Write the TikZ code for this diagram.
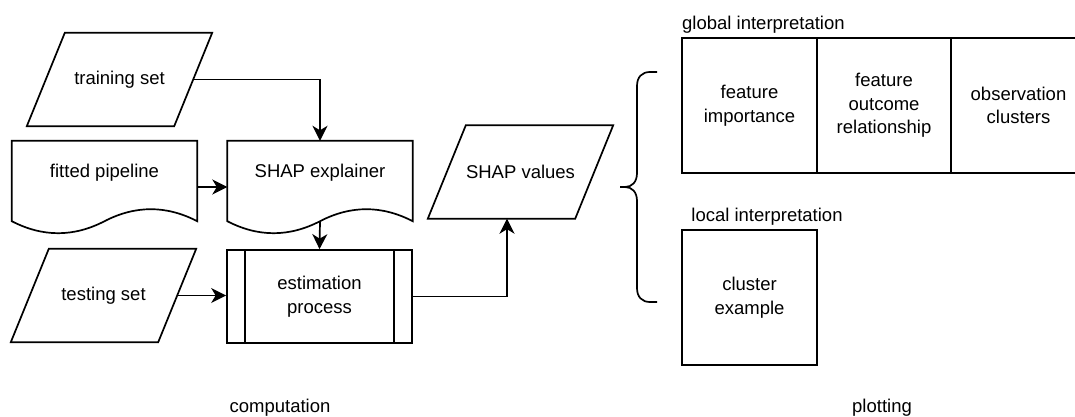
\documentclass[tikz,border=0pt]{standalone}
\usepackage{fontspec}
\setmainfont{Liberation Sans}
\usetikzlibrary{arrows.meta,calc}

% outline of a flowchart "document" symbol around node #1 (wavy bottom edge)
\newcommand\docoutline[1]{%
  \draw[edgepen] (#1.north west) -- (#1.north east)
    -- ($(#1.south west)!1!(#1.south east)+(0,-12)$)
    .. controls ($(#1.south west)!0.8333!(#1.south east)+(0,-28)$)
           and ($(#1.south west)!0.6667!(#1.south east)+(0,-28)$)
    .. ($(#1.south west)!0.5!(#1.south east)+(0,-12)$)
    .. controls ($(#1.south west)!0.3333!(#1.south east)+(0,4)$)
           and ($(#1.south west)!0.1667!(#1.south east)+(0,4)$)
    .. ($(#1.south west)+(0,-12)$) -- cycle;}

% outline of a flowchart "data" parallelogram around node #1
\newcommand\dataoutline[1]{%
  \draw[edgepen] (#1.south west) -- ($(#1.north west)+(38,0)$)
    -- (#1.north east) -- ($(#1.south east)+(-38,0)$) -- cycle;}

\begin{document}
\begin{tikzpicture}[x=1pt,y=-1pt,
  every node/.style={font=\fontsize{18.5}{23.5}\selectfont, align=center, inner sep=0pt},
  edgepen/.style={line width=1.7pt, draw=black},
  databox/.style={rectangle, minimum width=185pt, minimum height=93pt},
  docbox/.style={rectangle, minimum width=185pt, minimum height=92pt},
  procbox/.style={edgepen, rectangle, minimum width=185pt, minimum height=93pt},
  panel/.style={edgepen, rectangle, minimum width=135pt, minimum height=135pt},
  flow/.style={edgepen, -{Stealth[length=15pt,width=15pt,inset=4.5pt]}}
]
\useasboundingbox (0,0) rectangle (1075,417);
\clip (0,0) rectangle (1075,417);

% computation side
\node[databox] (train) at (119.5,79.5) {training set};
\dataoutline{train}
\node[docbox, label={[yshift=14pt]center:fitted pipeline}] (fp) at (104.5,187) {};
\node[docbox, label={[yshift=14pt]center:SHAP explainer}] (se) at (320,187) {};
\docoutline{fp}
\docoutline{se}
\node[databox] (test) at (103.5,295.5) {testing set};
\dataoutline{test}
\node[procbox] (est) at (319.5,296.5) {estimation\\process};
\draw[edgepen] ($(est.north west)+(19,0)$) -- ($(est.south west)+(19,0)$);
\draw[edgepen] ($(est.north east)+(-19,0)$) -- ($(est.south east)+(-19,0)$);
\node[databox] (shapv) at (520.5,172) {SHAP values};
\dataoutline{shapv}

\draw[flow] ([xshift=-19pt]train.east) -| (se.north);
\draw[flow] (fp.east) -- (se.west);
\draw[flow] ($(se.south)+(0,-12)$) -- (est.north);
\draw[flow] ([xshift=-19pt]test.east) -- (test.east -| est.west);
\draw[flow] (est.east) -| ([xshift=-13.5pt]shapv.south);

% curly brace
\draw[edgepen] (657,72) -- (650,72) .. controls (642,72) and (637,77) .. (637,86)
  -- (637,173) .. controls (637,182) and (632,187) .. (625,187) -- (620,187)
  -- (625,187) .. controls (632,187) and (637,192) .. (637,201)
  -- (637,288) .. controls (637,297) and (642,302) .. (650,302) -- (657,302);

% plotting side
\node[anchor=west] (glob) at (682,25) {global interpretation};
\node[panel] (fi) at (749.5,105.5) {feature\\importance};
\node[panel] (fo) at (884,105.5) {feature\\outcome\\relationship};
\node[panel] (oc) at (1018.5,105.5) {observation\\clusters};
\node (loc) at (767,217) {local interpretation};
\node[panel] (ce) at (749.5,297.5) {cluster\\example};

\node (comp) at (280,408) {computation};
\node (plot) at (882,408) {plotting};
\end{tikzpicture}
\end{document}
